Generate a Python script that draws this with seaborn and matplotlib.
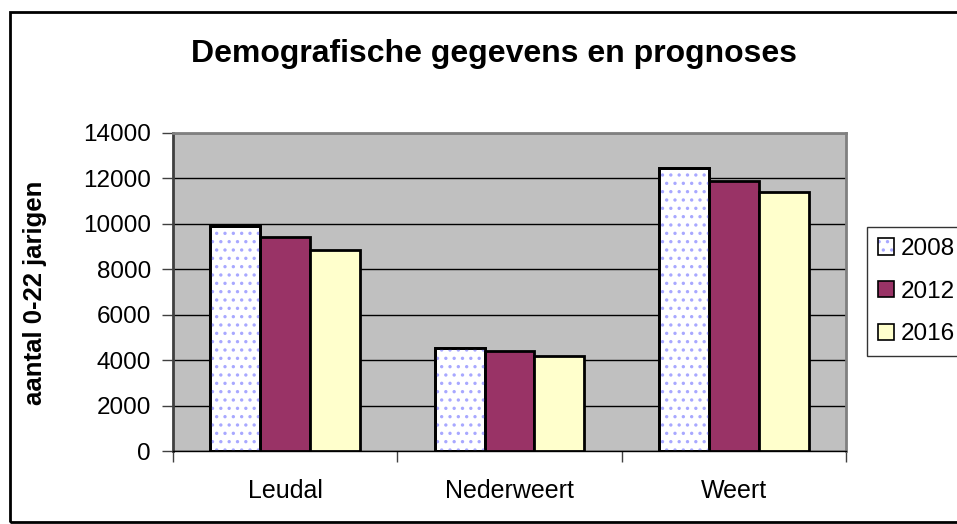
import pandas as pd
import matplotlib
matplotlib.use('Agg')
import matplotlib.pyplot as plt
import seaborn as sns
from matplotlib.patches import Patch, Rectangle
from matplotlib.legend_handler import HandlerTuple

regions = ['Leudal', 'Nederweert', 'Weert']
years = ['2008', '2012', '2016']
aantal_2008 = [9880, 4530, 12430]
aantal_2012 = [9430, 4420, 11880]
aantal_2016 = [8850, 4180, 11370]
colors = ['#ffffff', '#993366', '#ffffcc']

df = pd.DataFrame({
    'regio': regions * 3,
    'jaar': [y for y in years for _ in regions],
    'aantal': aantal_2008 + aantal_2012 + aantal_2016,
})

sns.set_style('white')
plt.rcParams['font.family'] = ['Liberation Sans', 'DejaVu Sans']
plt.rcParams['hatch.linewidth'] = 1.2
for k in ['text.color', 'axes.labelcolor', 'xtick.color', 'ytick.color']:
    plt.rcParams[k] = 'black'

fig = plt.figure(figsize=(9.57, 5.24), dpi=100)
ax = fig.add_axes([0.1808, 0.1393, 0.7032, 0.6075])
ax.set_facecolor('#c0c0c0')

sns.barplot(data=df, x='regio', y='aantal', hue='jaar', order=regions, hue_order=years,
            palette=colors, width=0.667, gap=0, edgecolor='black', linewidth=2,
            saturation=1, legend=False, ax=ax, zorder=3)

# dotted fill on the 2008 bars
dot_color = '#a8a8ff'
for p in ax.patches[:len(regions)]:
    ax.add_patch(Rectangle(p.get_xy(), p.get_width(), p.get_height(), fill=False,
                           hatch='..', edgecolor=dot_color, linewidth=0, zorder=3.5))
    ax.add_patch(Rectangle(p.get_xy(), p.get_width(), p.get_height(), fill=False,
                           edgecolor='black', linewidth=2, zorder=4))

ax.set_ylim(0, 14000)
ax.set_xlim(-0.5, 2.5)
ax.set_yticks(range(0, 14001, 2000))
ax.yaxis.grid(True, color='black', linewidth=1)
ax.set_axisbelow(True)

ax.set_xticks([-0.5, 0.5, 1.5, 2.5])
ax.set_xticklabels([])
ax.set_xticks([0, 1, 2], minor=True)
ax.set_xticklabels(regions, minor=True)
ax.tick_params(axis='x', which='major', length=8, width=1, color='#404040', direction='out')
ax.tick_params(axis='x', which='minor', length=0, pad=20, labelsize=18)
ax.tick_params(axis='y', length=8, width=1, color='#404040', direction='out', pad=8, labelsize=17.5)
ax.tick_params(bottom=True, left=True)

ax.spines['left'].set_color('#404040')
ax.spines['left'].set_linewidth(2)
ax.spines['bottom'].set_color('black')
ax.spines['bottom'].set_linewidth(1)
ax.spines['top'].set_color('#808080')
ax.spines['top'].set_linewidth(2)
ax.spines['right'].set_color('#808080')
ax.spines['right'].set_linewidth(2)

ax.set_xlabel('')
ax.set_ylabel('aantal 0-22 jarigen', fontsize=18.5, fontweight='bold')
ax.yaxis.set_label_coords(-0.187, 0.498)

fig.text(0.5157, 0.897, 'Demografische gegevens en prognoses', fontsize=23,
         fontweight='bold', ha='center', va='center')

handles = [Patch(facecolor=c, edgecolor='black', linewidth=1.2) for c in colors]
handles[0] = (Patch(facecolor='white', edgecolor=dot_color, hatch='..', linewidth=0),
              Patch(fill=False, edgecolor='black', linewidth=1.2))
leg = fig.legend(handles, years, loc='upper left', bbox_to_anchor=(867 / 957, 1 - 227 / 524),
                 fontsize=17.5, frameon=True, fancybox=False, handlelength=0.65, handleheight=0.65,
                 handletextpad=0.3, labelspacing=0.85, borderpad=0.45, borderaxespad=0,
                 handler_map={tuple: HandlerTuple(ndivide=1, pad=0)})
leg.get_frame().set_edgecolor('black')
leg.get_frame().set_linewidth(1)

fig.patches.append(Rectangle((10 / 957, 2 / 524), 1.0, 1 - 14 / 524, transform=fig.transFigure,
                             fill=False, edgecolor='black', linewidth=2, figure=fig))

fig.savefig('out.png', dpi=100)
